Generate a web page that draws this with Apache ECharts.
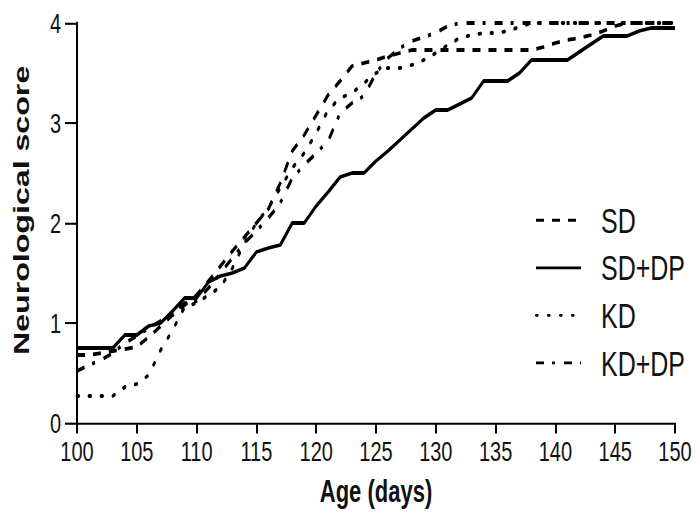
<!DOCTYPE html>
<html>
<head>
<meta charset="utf-8">
<script src="https://cdn.jsdelivr.net/npm/echarts@6/dist/echarts.min.js"></script>
<style>
html,body{margin:0;padding:0;background:#fff;overflow:hidden;}
#wrap{width:700px;height:516px;overflow:hidden;}
#c{width:700px;height:369px;transform:scaleY(1.39837);transform-origin:0 0;}
</style>
</head>
<body>
<div id="wrap"><div id="c"></div></div>
<script>
// Age in days (x values)
const days = [100,101,102,103,104,105,106,107,108,109,
              110,111,112,113,114,115,116,117,118,119,
              120,121,122,123,124,125,126,127,128,129,
              130,131,132,133,134,135,136,137,138,139,
              140,141,142,143,144,145,146,147,148,149,150];

const sd = [0.68,0.68,0.70,0.72,0.74,0.76,0.86,0.97,1.08,1.18,
            1.28,1.42,1.57,1.72,1.86,2.00,2.14,2.40,2.72,2.88,
            3.08,3.28,3.42,3.57,3.60,3.63,3.67,3.70,3.73,3.73,
            3.73,3.73,3.73,3.73,3.73,3.73,3.73,3.73,3.73,3.76,
            3.80,3.83,3.85,3.88,3.92,3.97,4.00,4.00,4.00,4.00,4.00];

const sdDp = [0.75,0.75,0.75,0.75,0.88,0.88,0.97,1.00,1.12,1.25,
              1.25,1.41,1.47,1.50,1.55,1.71,1.75,1.78,2.00,2.00,
              2.17,2.31,2.46,2.50,2.50,2.62,2.72,2.83,2.94,3.05,
              3.13,3.13,3.19,3.25,3.42,3.42,3.42,3.50,3.63,3.63,
              3.63,3.63,3.71,3.79,3.87,3.87,3.87,3.92,3.95,3.95,3.95];

const kd = [0.27,0.27,0.27,0.27,0.36,0.39,0.48,0.73,0.93,1.16,
            1.20,1.28,1.36,1.55,1.80,2.00,2.15,2.35,2.55,2.70,
            2.90,3.13,3.25,3.30,3.40,3.50,3.55,3.55,3.58,3.63,
            3.70,3.78,3.85,3.88,3.90,3.90,3.92,3.96,4.00,4.00,
            4.00,4.00,4.00,4.00,4.00,4.00,4.00,4.00,4.00,4.00,4.00];

const kdDp = [0.52,0.58,0.63,0.70,0.80,0.87,0.95,1.02,1.10,1.20,
              1.22,1.35,1.50,1.65,1.80,1.92,2.05,2.20,2.45,2.58,
              2.70,2.82,3.10,3.20,3.27,3.50,3.65,3.75,3.82,3.86,
              3.90,3.97,4.00,4.00,4.00,4.00,4.00,4.00,4.00,4.00,
              4.00,4.00,4.00,4.00,4.00,4.00,4.00,4.00,4.00,4.00,4.00];

const seriesNames = ['SD','SD+DP','KD','KD+DP'];
const xTicks = {min:100, max:150, interval:5};
const yTicks = {min:0, max:4, interval:1};

function pairs(vals){ return days.map((d,i)=>[d, vals[i]]); }

const FONT = 'Liberation Sans, Arial, sans-serif';
const chart = echarts.init(document.getElementById('c'), null, {renderer:'svg'});

function mk(name, vals, dash, cap){
  return {
    name: name, type:'line', data: pairs(vals), symbol:'none', showSymbol:false,
    lineStyle:{color:'#000', width:2.7, type:dash, cap:cap||'butt', join:'round'},
    itemStyle:{color:'#000'},
    emphasis:{disabled:true}, animation:false
  };
}

chart.setOption({
  animation:false,
  backgroundColor:'#fff',
  grid:{left:77, top:16.45, width:598, height:286.05, containLabel:false},
  legend:{
    orient:'vertical', left:530, top:140, itemWidth:45, itemHeight:14, itemGap:9,
    data: seriesNames,
    itemStyle:{opacity:0, borderWidth:0},
    textStyle:{fontFamily:FONT, fontSize:25, color:'#111', padding:[0,0,0,15]},
    selectedMode:false
  },
  xAxis:{
    type:'value', min:xTicks.min, max:xTicks.max, interval:xTicks.interval,
    name:'Age (days)', nameLocation:'middle', nameGap:38,
    nameTextStyle:{fontFamily:FONT, fontSize:22, fontWeight:'bold', color:'#111'},
    axisLine:{show:true, onZero:false, lineStyle:{color:'#000', width:1.5}},
    axisTick:{show:true, length:7.5, lineStyle:{color:'#000', width:2}},
    axisLabel:{fontFamily:FONT, fontSize:20, color:'#111', margin:10},
    splitLine:{show:false}
  },
  yAxis:{
    type:'value', min:yTicks.min, max:yTicks.max, interval:yTicks.interval,
    name:'Neurological score', nameLocation:'middle', nameGap:44,
    nameTextStyle:{fontFamily:FONT, fontSize:23, fontWeight:'bold', color:'#111', padding:[0,0,0,18]},
    axisLine:{show:true, lineStyle:{color:'#000', width:2}},
    axisTick:{show:true, length:12, lineStyle:{color:'#000', width:1.5}},
    axisLabel:{fontFamily:FONT, fontSize:20, color:'#111', margin:16},
    splitLine:{show:false}
  },
  series:[
    mk('SD', sd, [8,8]),
    mk('SD+DP', sdDp, 'solid'),
    mk('KD', kd, [1.6,10.4], 'round'),
    mk('KD+DP', kdDp, [8,8,3,9])
  ]
});
</script>
</body>
</html>
